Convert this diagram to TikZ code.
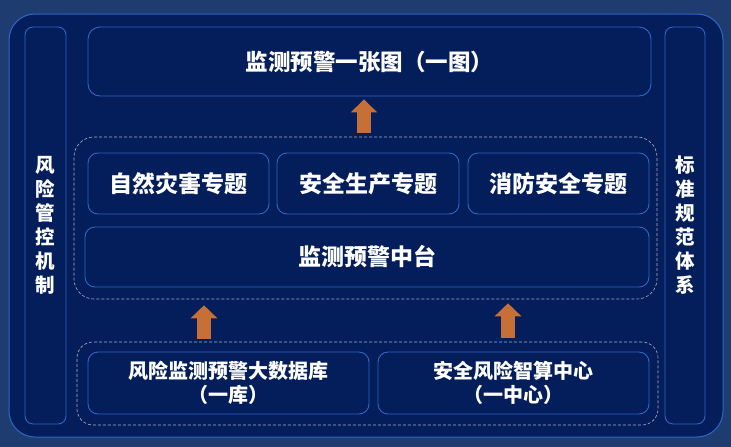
\documentclass[tikz,border=0pt]{standalone}
\usepackage{fontspec}
\newfontfamily\cjk{Noto Sans CJK SC}
\usetikzlibrary{arrows.meta}
\definecolor{bgout}{RGB}{30,60,112}
\definecolor{panel}{RGB}{3,30,90}
\definecolor{edge}{RGB}{50,102,196}
\definecolor{arrowc}{RGB}{198,112,56}
\definecolor{dashc}{RGB}{165,178,200}
\tikzset{
  box/.style={draw=edge, line width=0.9pt, rounded corners=10pt, text=white, align=center, inner sep=0pt},
  sidebox/.style={draw=edge, line width=0.9pt, rounded corners=8pt, text=white, align=center, inner sep=0pt, font=\cjk\bfseries\fontsize{19.5}{24}\selectfont},
  groupbox/.style={draw=dashc, densely dashed, line width=0.6pt, inner sep=0pt},
  titlefont/.style={font=\cjk\bfseries\fontsize{22.5}{26}\selectfont},
  topicfont/.style={font=\cjk\bfseries\fontsize{23}{27}\selectfont},
  basefont/.style={font=\cjk\bfseries\fontsize{20}{24}\selectfont},
  bigarrow/.style={arrowc, line width=14pt, -{Triangle[width=26pt,length=13pt]}}
}
\begin{document}
\begin{tikzpicture}[x=1pt,y=-1pt]
\fill[bgout] (0,0) rectangle (731,447);
\useasboundingbox (0,0) rectangle (731,447);
\node[draw=edge, fill=panel, line width=1pt, rounded corners=26pt, minimum width=714pt, minimum height=423pt, inner sep=0pt] (panel) at (366,225.5) {};
% side columns
\node[sidebox, minimum width=41pt, minimum height=397pt] (left) at (45.5,225.5) {风\\险\\管\\控\\机\\制};
\node[sidebox, minimum width=40pt, minimum height=397pt] (right) at (685,225.5) {标\\准\\规\\范\\体\\系};
% top
\node[box, titlefont, rounded corners=12pt, minimum width=563pt, minimum height=69pt] (top) at (369.5,61.5) {监测预警一张图（一图）};
% middle group
\node[groupbox, rounded corners=20pt, minimum width=583pt, minimum height=162pt] (mid) at (365.5,218) {};
\node[box, topicfont, minimum width=181pt, minimum height=61pt] (t1) at (178.5,183.5) {自然灾害专题};
\node[box, topicfont, minimum width=182pt, minimum height=61pt] (t2) at (368,183.5) {安全生产专题};
\node[box, topicfont, minimum width=181pt, minimum height=61pt] (t3) at (558.5,183.5) {消防安全专题};
\node[box, topicfont, minimum width=564pt, minimum height=60pt] (plat) at (367,257) {监测预警中台};
% bottom group
\node[groupbox, rounded corners=16pt, minimum width=581pt, minimum height=83pt] (low) at (367.5,383.5) {};
\node[box, basefont, minimum width=281pt, minimum height=62pt] (b1) at (228.5,383) {风险监测预警大数据库\\（一库）};
\node[box, basefont, minimum width=271pt, minimum height=62pt] (b2) at (513.5,383) {安全风险智算中心\\（一中心）};
% arrows
\coordinate (ax1) at (364,0);
\coordinate (ax2) at (204,0);
\coordinate (ax3) at (508,0);
\draw[bigarrow, shorten <=4pt, shorten >=3pt] (mid.north -| ax1) -- (top.south -| ax1);
\draw[bigarrow, shorten <=3pt, shorten >=6pt] (low.north -| ax2) -- (mid.south -| ax2);
\draw[bigarrow, shorten <=4pt, shorten >=4pt] (low.north -| ax3) -- (mid.south -| ax3);
\end{tikzpicture}
\end{document}
